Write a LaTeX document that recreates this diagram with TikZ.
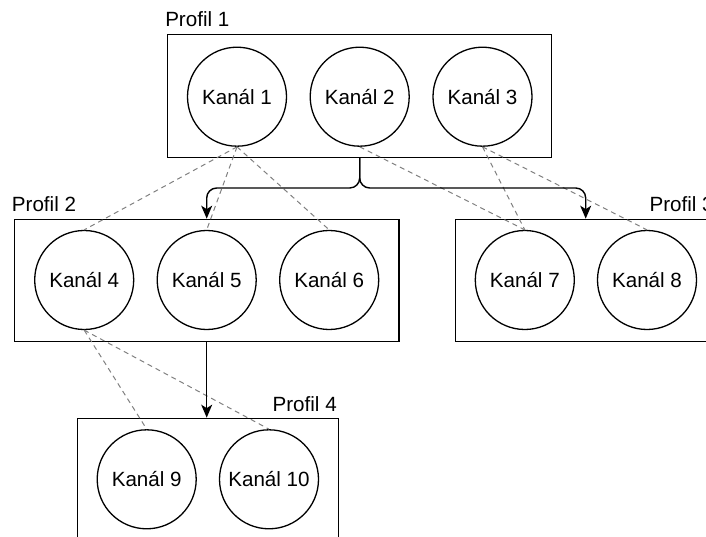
\documentclass[tikz,border=0pt]{standalone}
\usepackage{fontspec}
\setmainfont{Liberation Sans}
\usetikzlibrary{arrows.meta}
\definecolor{linkgray}{RGB}{128,128,128}
\begin{document}
\begin{tikzpicture}[x=1pt,y=-1pt,
  every node/.style={font=\fontsize{20.6}{24}\selectfont},
  profilbox/.style={draw, line width=1.3pt, minimum height=122.4pt, inner sep=0pt},
  kanal/.style={draw, circle, line width=1.3pt, minimum size=99pt, inner sep=0pt},
  plabel/.style={inner sep=0pt},
  conn/.style={line width=1.4pt, rounded corners=10pt, -{Stealth[length=13pt,width=11pt,inset=3.5pt]}},
  link/.style={draw=linkgray, line width=1pt, dash pattern=on 5pt off 4pt}]
\useasboundingbox (0,0) rectangle (706,537);
\clip (0,0) rectangle (706,537);

% profile boxes
\node[profilbox, minimum width=384pt, minimum height=123pt] (p1) at (359.7,95.8) {};
\node[profilbox, minimum width=384.7pt] (p2) at (206.7,280.5) {};
\node[profilbox, minimum width=261pt] (p3) at (585.7,280.5) {};
\node[profilbox, minimum width=261pt] (p4) at (207.8,479.5) {};

% profile titles
\node[plabel, anchor=base west] (t1) at ([xshift=-2pt,yshift=7pt]p1.north west) {Profil 1};
\node[plabel, anchor=base west] (t2) at ([xshift=-2pt,yshift=7.5pt]p2.north west) {Profil 2};
\node[plabel, anchor=base east] (t3) at ([xshift=-3pt,yshift=7.5pt]p3.north east) {Profil 3};
\node[plabel, anchor=base east] (t4) at ([xshift=-2pt,yshift=6.6pt]p4.north east) {Profil 4};

% channels
\node[kanal] (k1) at (237,96.7) {Kanál 1};
\node[kanal] (k2) at (359.7,96.7) {Kanál 2};
\node[kanal] (k3) at (482.5,96.7) {Kanál 3};
\node[kanal] (k4) at (84.2,280) {Kanál 4};
\node[kanal] (k5) at (206.7,280) {Kanál 5};
\node[kanal] (k6) at (329.2,280) {Kanál 6};
\node[kanal] (k7) at (524.8,280) {Kanál 7};
\node[kanal] (k8) at (647,280) {Kanál 8};
\node[kanal] (k9) at (146.7,479.3) {Kanál 9};
\node[kanal] (k10) at (269,479.3) {Kanál 10};

% channel links
\draw[link] (k1.south) -- (k4.north);
\draw[link] (k1.south) -- (k5.north);
\draw[link] (k1.south) -- (k6.north);
\draw[link] (k2.south) -- (k7.north);
\draw[link] (k3.south) -- (k7.north);
\draw[link] (k3.south) -- (k8.north);
\draw[link] (k4.south) -- (k9.north);
\draw[link] (k4.south) -- (k10.north);

% profile hierarchy
\coordinate (fork) at (359.7,188);
\draw[conn] (p1.south) -- (fork) -| (p2.north);
\draw[conn] (p1.south) -- (fork) -| (p3.north);
\draw[conn] (p2.south) -- (p2.south |- p4.north);
\end{tikzpicture}
\end{document}
